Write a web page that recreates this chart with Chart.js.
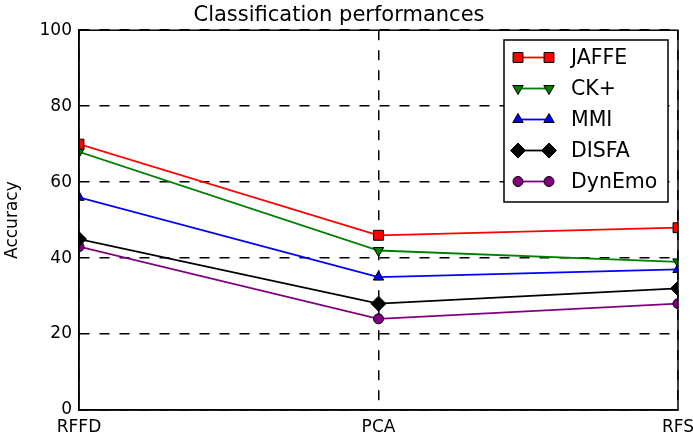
<!DOCTYPE html>
<html>
<head>
<meta charset="utf-8">
<script src="https://cdn.jsdelivr.net/npm/chart.js@4/dist/chart.umd.min.js"></script>
<style>
  html, body { margin: 0; padding: 0; background: #ffffff; }
  #wrap { width: 693px; height: 437px; }
</style>
</head>
<body>
<div id="wrap"><canvas id="perf-chart" width="693" height="437"></canvas></div>
<script>
// Chart data
const methods = ['RFFD', 'PCA', 'RFS'];
const jaffe = [70, 46, 48];
const ckPlus = [68, 42, 39];
const mmi = [56, 35, 37];
const disfa = [45, 28, 32];
const dynEmo = [43, 24, 28];
const yTicks = [0, 20, 40, 60, 80, 100];

const FONT = "'DejaVu Sans', sans-serif";

function series(label, data, color, pointStyle, radius, rotation) {
  return {
    label: label,
    data: data,
    borderColor: color,
    backgroundColor: color,
    borderWidth: 1.8,
    pointStyle: pointStyle,
    pointRadius: radius,
    pointHoverRadius: radius,
    pointRotation: rotation || 0,
    pointBackgroundColor: color,
    pointBorderColor: '#000000',
    pointBorderWidth: 1,
    tension: 0,
    clip: 0
  };
}

// Draws the matplotlib-style legend box inside the plot area
const boxLegend = {
  id: 'boxLegend',
  afterDatasetsDraw(chart) {
    const ctx = chart.ctx;
    const area = chart.chartArea;
    // full frame around the plot
    ctx.save();
    ctx.strokeStyle = '#000000';
    ctx.lineWidth = 1.5;
    ctx.strokeRect(area.left, area.top, area.right - area.left, area.bottom - area.top);

    const x0 = 504, y0 = 40, w = 164, h = 162;
    ctx.fillStyle = '#ffffff';
    ctx.fillRect(x0, y0, w, h);
    ctx.strokeRect(x0, y0, w, h);

    ctx.font = '20.5px ' + FONT;
    ctx.textBaseline = 'middle';
    ctx.textAlign = 'left';
    chart.data.datasets.forEach((ds, i) => {
      const y = 57.5 + i * 31;
      ctx.strokeStyle = ds.borderColor;
      ctx.lineWidth = ds.borderWidth;
      ctx.beginPath();
      ctx.moveTo(518, y);
      ctx.lineTo(549, y);
      ctx.stroke();
      const opts = {
        pointStyle: ds.pointStyle,
        radius: ds.pointRadius,
        rotation: ds.pointRotation,
        borderWidth: 1
      };
      [518, 549].forEach((px) => {
        ctx.fillStyle = ds.pointBackgroundColor;
        ctx.strokeStyle = '#000000';
        ctx.lineWidth = 1;
        Chart.helpers.drawPoint(ctx, opts, px, y);
      });
      ctx.fillStyle = '#000000';
      ctx.fillText(ds.label, 571, y + 1);
    });
    ctx.restore();
  }
};

new Chart(document.getElementById('perf-chart').getContext('2d'), {
  type: 'line',
  data: {
    labels: methods,
    datasets: [
      series('JAFFE', jaffe, '#ff0000', 'rect', 7),
      series('CK+', ckPlus, '#008000', 'triangle', 6, 180),
      series('MMI', mmi, '#0000ff', 'triangle', 6),
      series('DISFA', disfa, '#000000', 'rectRot', 7.5),
      series('DynEmo', dynEmo, '#800080', 'circle', 5)
    ]
  },
  options: {
    responsive: false,
    animation: false,
    devicePixelRatio: 1,
    layout: { padding: { left: 0, right: 15, top: 0, bottom: 0 } },
    plugins: {
      legend: { display: false },
      tooltip: { enabled: false },
      title: {
        display: true,
        text: 'Classification performances',
        color: '#000000',
        font: { size: 21, weight: 'normal', family: FONT },
        padding: { top: 3, bottom: 2 }
      }
    },
    scales: {
      x: {
        type: 'category',
        offset: false,
        grid: { color: '#000000', lineWidth: 1.5, drawTicks: false },
        border: { display: true, color: '#000000', width: 1.5, dash: [10, 10], dashOffset: 0 },
        ticks: {
          color: '#000000',
          padding: 7,
          maxRotation: 0,
          autoSkip: false,
          font: { size: 17, family: FONT }
        },
        afterFit(scale) {
          scale.height = 27;
          scale.paddingLeft = 0;
          scale.paddingRight = 0;
        }
      },
      y: {
        min: 0,
        max: 100,
        grid: { color: '#000000', lineWidth: 1.5, drawTicks: false },
        border: { display: true, color: '#000000', width: 1.5, dash: [10, 10] },
        afterBuildTicks(scale) {
          scale.ticks = yTicks.map((v) => ({ value: v }));
        },
        ticks: {
          color: '#000000',
          padding: 7,
          font: { size: 17, family: FONT }
        },
        title: {
          display: true,
          text: 'Accuracy',
          color: '#000000',
          font: { size: 17, family: FONT },
          padding: { top: 2, bottom: 0 }
        },
        afterFit(scale) {
          scale.width = 79;
          scale.paddingTop = 0;
          scale.paddingBottom = 0;
        }
      }
    }
  },
  plugins: [boxLegend]
});
</script>
</body>
</html>
